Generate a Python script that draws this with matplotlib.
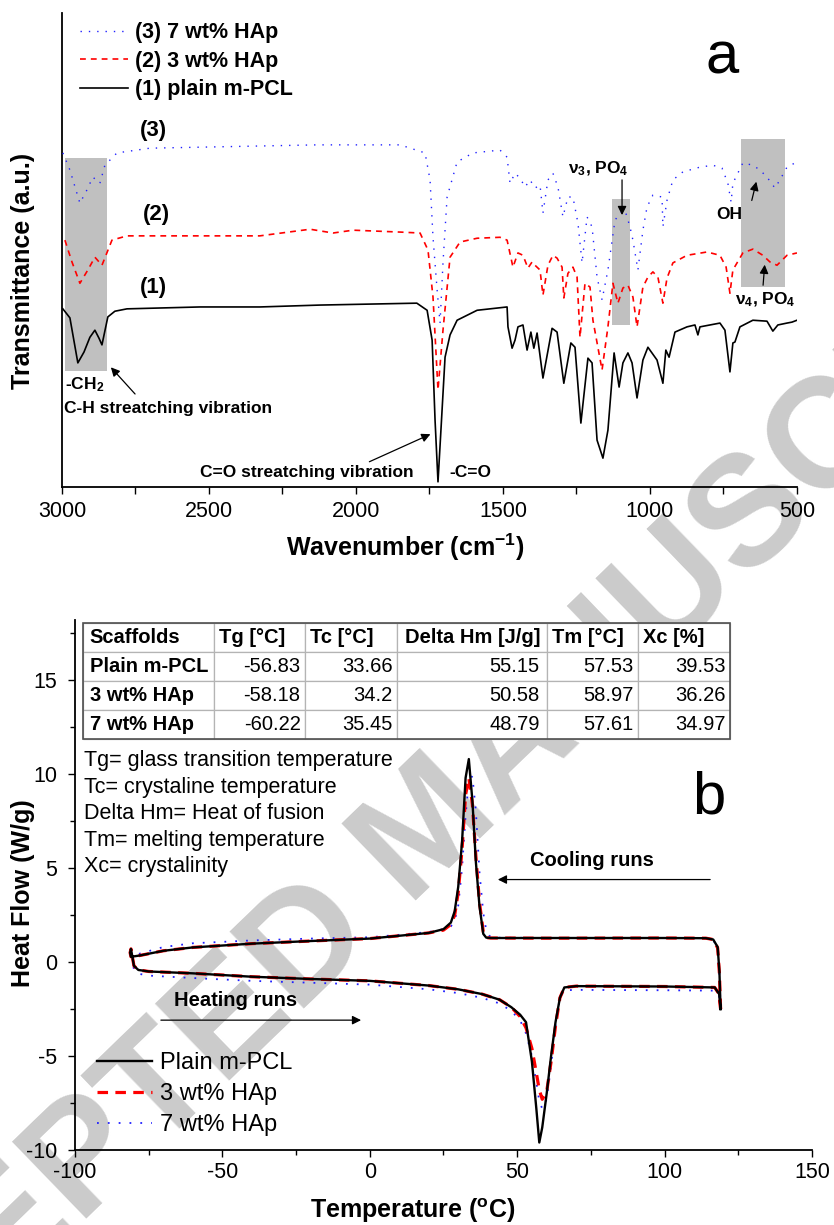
import matplotlib
matplotlib.use('Agg')
import matplotlib.pyplot as plt
from matplotlib.patches import Rectangle
from matplotlib.ticker import MultipleLocator

plt.rcParams['font.family'] = ['Liberation Sans', 'DejaVu Sans']
plt.rcParams['mathtext.fontset'] = 'custom'
plt.rcParams['mathtext.rm'] = 'Liberation Sans'
plt.rcParams['mathtext.bf'] = 'Liberation Sans:bold'
plt.rcParams['mathtext.it'] = 'Liberation Sans:italic'
plt.rcParams['axes.unicode_minus'] = False

#-------------------- FTIR (a) --------------------#
# wavenumber (cm-1) / transmittance (a.u.)
wn_pcl = [2997, 2973, 2946, 2925, 2905, 2888, 2874, 2864, 2844, 2820, 2779, 2531, 2327, 2122, 1793,
          1758, 1741, 1731, 1721, 1711, 1697, 1680, 1656, 1588, 1486, 1483, 1469, 1459, 1449, 1432,
          1418, 1405, 1395, 1384, 1364, 1333, 1316, 1293, 1269, 1255, 1235, 1211, 1197, 1180, 1160,
          1143, 1122, 1105, 1092, 1075, 1061, 1044, 1024, 1007, 976, 956, 946, 935, 915, 874, 847,
          837, 830, 762, 745, 728, 718, 711, 694, 650, 602, 582, 565, 534, 517, 500]
t_pcl = [37.6, 35.7, 26.2, 28.5, 31.6, 33.1, 31.4, 30.0, 35.9, 37.1, 37.6, 38.0, 38.0, 38.4, 38.8,
         37.3, 31.0, 14.1, 1.1, 12.0, 27.4, 32.1, 35.2, 37.3, 38.0, 33.8, 29.3, 31.0, 33.8, 34.2,
         28.9, 32.7, 29.3, 32.5, 23.0, 33.5, 32.7, 21.9, 30.4, 29.5, 13.5, 27.2, 26.2, 9.9, 6.1,
         12.0, 28.3, 21.1, 26.2, 28.3, 26.2, 18.8, 26.8, 29.5, 26.8, 21.9, 28.9, 27.4, 32.7, 33.8, 34.2,
         32.1, 33.8, 34.6, 33.1, 24.3, 30.4, 30.6, 33.8, 35.2, 35.0, 32.9, 34.2, 34.6, 34.8, 35.2]

wn_3 = [2990, 2966, 2939, 2912, 2888, 2864, 2830, 2779, 2327, 2156, 2078, 2010, 1850, 1782, 1755,
        1738, 1721, 1704, 1680, 1646, 1588, 1510, 1486, 1466, 1449, 1432, 1415, 1401, 1391, 1374,
        1364, 1347, 1330, 1316, 1299, 1293, 1279, 1262, 1248, 1238, 1221, 1204, 1194, 1163, 1143,
        1126, 1109, 1092, 1075, 1058, 1044, 1024, 1007, 990, 973, 956, 942, 922, 874, 806, 762,
        741, 728, 718, 684, 650, 616, 592, 568, 534, 500]
t_3 = [52.1, 47.5, 43.0, 45.8, 48.5, 46.8, 52.1, 53.0, 53.0, 54.4, 53.6, 54.2, 53.8, 53.6, 50.0,
       40.1, 20.5, 33.1, 48.5, 51.7, 52.5, 52.7, 52.1, 46.4, 49.4, 48.9, 46.2, 47.5, 46.8, 45.8,
       40.5, 46.8, 48.9, 48.3, 46.4, 39.9, 45.1, 46.4, 44.3, 31.6, 43.0, 42.2, 35.2, 24.7, 33.8,
       43.0, 38.8, 42.0, 42.6, 40.1, 33.8, 42.2, 44.3, 45.4, 44.3, 38.8, 44.1, 47.3, 48.9, 49.6, 48.9,
       46.4, 40.9, 45.8, 49.4, 50.2, 48.9, 47.5, 46.8, 48.9, 49.4]

wn_7 = [2997, 2973, 2939, 2915, 2895, 2871, 2854, 2813, 2701, 2133, 1850, 1765, 1748, 1738, 1724,
        1714, 1704, 1690, 1656, 1602, 1510, 1486, 1476, 1459, 1442, 1425, 1408, 1391, 1374, 1364,
        1347, 1330, 1313, 1296, 1279, 1262, 1245, 1231, 1214, 1197, 1180, 1163, 1143, 1119, 1102,
        1085, 1068, 1058, 1041, 1024, 1010, 990, 959, 956, 942, 922, 888, 830, 786, 755, 735,
        724, 718, 684, 650, 626, 602, 575, 558, 534, 500]
t_7 = [70.5, 66.9, 59.9, 62.7, 65.4, 64.1, 67.9, 70.5, 71.5, 72.2, 72.2, 70.5, 64.8, 52.7, 41.6,
       34.6, 47.3, 61.2, 68.6, 70.5, 71.1, 69.6, 64.1, 66.2, 65.2, 63.3, 64.8, 63.1, 63.7, 57.8,
       64.8, 66.2, 63.3, 57.0, 61.2, 61.2, 55.7, 47.3, 57.0, 54.9, 44.3, 39.5, 45.8, 56.3, 57.8,
       58.4, 54.9, 52.1, 45.8, 54.2, 59.1, 61.6, 61.2, 54.9, 60.5, 64.8, 66.5, 67.5, 67.9, 67.3, 64.1,
       60.1, 64.1, 68.4, 67.9, 66.9, 65.4, 63.1, 64.8, 67.5, 68.6]

ftir_labels = ['(1) plain m-PCL', '(2) 3 wt% HAp', '(3) 7 wt% HAp']

#-------------------- DSC (b) --------------------#
temp_cool = [119.0, 118.6, 118.0, 116.5, 114, 100, 60, 41, 39.5, 38.5, 37.2, 36.0, 34.8, 33.6, 32.5,
             31.3, 30.0, 28.8, 27.5, 25, 20, 10, 0, -20, -40, -60, -70, -78, -81, -81.3]
hf_cool_pcl = [-2.5, -0.5, 0.8, 1.2, 1.27, 1.28, 1.28, 1.28, 1.3, 1.5, 3.0, 5.3, 8.6, 10.8, 9.8,
               6.4, 4.0, 2.7, 2.1, 1.75, 1.55, 1.4, 1.25, 1.12, 0.98, 0.78, 0.6, 0.35, 0.28, 0.5]
hf_cool_3 = [-2.5, -0.6, 0.75, 1.2, 1.27, 1.28, 1.27, 1.28, 1.3, 1.6, 3.2, 5.6, 8.4, 9.8, 8.9,
             6.0, 3.7, 2.5, 2.0, 1.7, 1.55, 1.4, 1.25, 1.12, 0.98, 0.78, 0.6, 0.35, 0.28, 0.5]
hf_cool_7 = [-2.4, -0.7, 0.7, 1.2, 1.27, 1.28, 1.28, 1.3, 1.7, 2.6, 4.8, 8.0, 9.9, 9.6, 7.8,
             5.0, 3.0, 2.2, 1.9, 1.75, 1.6, 1.45, 1.32, 1.25, 1.15, 1.0, 0.8, 0.45, 0.3, 0.5]

temp_heat = [-81.0, -80.0, -78.5, -75, -60, -40, -20, 0, 20, 30, 38, 44, 48, 51, 53,
             55, 56.5, 57.5, 58.5, 60, 61.5, 63, 64.5, 66, 70, 100, 117, 118.5, 119.0]
hf_heat_pcl = [0.7, -0.2, -0.42, -0.5, -0.6, -0.78, -0.9, -1.0, -1.25, -1.45, -1.7, -2.0, -2.4, -2.8, -3.2,
               -5.3, -7.8, -9.6, -8.8, -7.0, -5.0, -3.2, -1.9, -1.35, -1.28, -1.3, -1.35, -1.7, -2.5]
hf_heat_3 = [0.7, -0.2, -0.42, -0.5, -0.6, -0.78, -0.9, -1.0, -1.25, -1.45, -1.7, -2.0, -2.4, -2.9, -3.5,
             -4.6, -5.9, -6.8, -7.3, -6.9, -5.3, -3.4, -1.9, -1.35, -1.28, -1.3, -1.35, -1.7, -2.5]
hf_heat_7 = [0.6, -0.4, -0.62, -0.72, -0.85, -1.0, -1.1, -1.2, -1.45, -1.65, -1.9, -2.2, -2.6, -3.1, -3.8,
             -5.0, -6.4, -7.4, -7.8, -7.3, -5.5, -3.4, -1.9, -1.5, -1.48, -1.5, -1.52, -1.8, -2.5]

dsc_labels = ['Plain m-PCL', '3 wt% HAp', '7 wt% HAp']

table_cols = ['Scaffolds', 'Tg [°C]', 'Tc [°C]', 'Delta Hm [J/g]', 'Tm [°C]', 'Xc [%]']
table_rows = ['Plain m-PCL', '3 wt% HAp', '7 wt% HAp']
tg = ['-56.83', '-58.18', '-60.22']
tc = ['33.66', '34.2', '35.45']
dhm = ['55.15', '50.58', '48.79']
tm = ['57.53', '58.97', '57.61']
xc = ['39.53', '36.26', '34.97']

notes = ['Tg= glass transition temperature', 'Tc= crystaline temperature',
         'Delta Hm= Heat of fusion', 'Tm= melting temperature', 'Xc= crystalinity']

#-----------------------------------------------------#

fig = plt.figure(figsize=(8.34, 12.25), dpi=100)

# watermark behind everything
fig.text(0.516, 0.322, 'ACCEPTED MANUSCRIPT', rotation=44, fontsize=112, fontweight='bold',
         color='#cbcbcb', ha='center', va='center', zorder=-5)

#------------------ panel a ------------------#
ax1 = fig.add_axes([0.0743, 0.6024, 0.8813, 0.3869])
ax1.patch.set_alpha(0)

for x0, x1, y0, y1 in [(2847, 2990, 24.5, 69.4), (1068, 1129, 34.2, 60.8), (541, 690, 42.2, 73.4)]:
    ax1.add_patch(Rectangle((x1, y0), x0 - x1, y1 - y0, facecolor='#c0c0c0', edgecolor='none', zorder=1))

l1, = ax1.plot(wn_pcl, t_pcl, color='black', lw=1.2, zorder=3, label=ftir_labels[0])
l2, = ax1.plot(wn_3, t_3, color='#ff0000', lw=1.2, ls=(0, (3.5, 3)), zorder=3, label=ftir_labels[1])
l3, = ax1.plot(wn_7, t_7, color='#2020ff', lw=1.0, ls=(0, (1, 5)), zorder=3, label=ftir_labels[2])

ax1.set_xlim(3000, 500)
ax1.set_ylim(0, 100)
ax1.set_yticks([])
ax1.xaxis.set_major_locator(MultipleLocator(500))
ax1.xaxis.set_minor_locator(MultipleLocator(250))
ax1.tick_params(axis='x', which='both', direction='out', length=5, width=1, labelsize=15.5, pad=5)
for s in ['top', 'right']:
    ax1.spines[s].set_visible(False)
for s in ['left', 'bottom']:
    ax1.spines[s].set_linewidth(1.3)

ax1.set_xlabel(r'Wavenumber (cm$^{\mathbf{-1}}$)', fontsize=18, fontweight='bold')
ax1.xaxis.set_label_coords(0.467, -0.095)
ax1.set_ylabel('Transmittance (a.u.)', fontsize=18, fontweight='bold')
ax1.yaxis.set_label_coords(-0.037, 0.456)

ax1.legend([l3, l2, l1], [ftir_labels[2], ftir_labels[1], ftir_labels[0]], loc='upper left',
           bbox_to_anchor=(0.024, 0.981), frameon=False, borderaxespad=0, borderpad=0,
           handlelength=2.23, handletextpad=0.33, labelspacing=0.35,
           prop={'weight': 'bold', 'size': 15.5})

bold = dict(fontweight='bold', fontsize=12.5, ha='center', va='center')
ax1.text(2690, 75.3, '(3)', fontweight='bold', fontsize=16, ha='center', va='center')
ax1.text(2677, 57.6, '(2)', fontweight='bold', fontsize=16, ha='center', va='center')
ax1.text(2690, 42.2, '(1)', fontweight='bold', fontsize=16, ha='center', va='center')
ax1.text(755, 87.3, 'a', fontsize=43, ha='center', va='baseline')

ax1.text(2922, 21.7, r'-CH$_{\mathbf{2}}$', **bold)
ax1.text(2993, 16.6, 'C-H streatching vibration', fontweight='bold', fontsize=12.5, ha='left', va='center')
ax1.text(2167, 3.1, 'C=O streatching vibration', **bold)
ax1.text(1612, 3.1, '-C=O', **bold)
ax1.text(1177, 67.1, r'ν$_{\mathbf{3}}$, PO$_{\mathbf{4}}$', **bold)
ax1.text(731, 57.6, 'OH', **bold)
ax1.text(609, 39.5, r'ν$_{\mathbf{4}}$, PO$_{\mathbf{4}}$', **bold)

arrow = dict(arrowstyle='-|>', color='black', lw=0.9, mutation_scale=13)
for tail, head in [((2745, 19.2), (2840, 25.7)), ((1963, 5.1), (1738, 11.4)),
                   ((1095, 65.4), (1095, 56.8)), ((656, 59.9), (636, 65.0)),
                   ((616, 42.0), (609, 47.5))]:
    ax1.annotate('', xy=head, xytext=tail, arrowprops=arrow, zorder=4)

#------------------ panel b ------------------#
ax2 = fig.add_axes([0.0899, 0.0612, 0.8837, 0.4327])
ax2.patch.set_alpha(0)

ax2.plot(temp_cool + temp_heat, hf_cool_pcl + hf_heat_pcl, color='black', lw=1.7, zorder=4,
         label=dsc_labels[0])
ax2.plot(temp_cool + temp_heat, hf_cool_3 + hf_heat_3, color='#ff0000', lw=2.3, ls=(0, (3.3, 2.3)),
         zorder=3, label=dsc_labels[1])
ax2.plot(temp_cool + temp_heat, hf_cool_7 + hf_heat_7, color='#2020ff', lw=1.3, ls=(0, (1, 5)),
         zorder=2, label=dsc_labels[2])

ax2.set_xlim(-100, 150)
ax2.set_ylim(-10, 18.2)
ax2.xaxis.set_major_locator(MultipleLocator(50))
ax2.xaxis.set_minor_locator(MultipleLocator(25))
ax2.yaxis.set_major_locator(MultipleLocator(5))
ax2.yaxis.set_minor_locator(MultipleLocator(2.5))
ax2.tick_params(axis='both', which='major', direction='out', length=5, width=1, labelsize=15.5)
ax2.tick_params(axis='both', which='minor', direction='out', length=3.5, width=1)
ax2.tick_params(axis='x', which='both', pad=3.5)
ax2.tick_params(axis='y', which='both', pad=8)
for s in ['top', 'right']:
    ax2.spines[s].set_visible(False)
for s in ['left', 'bottom']:
    ax2.spines[s].set_linewidth(1.3)

ax2.set_xlabel(r'Temperature ($^{\mathbf{o}}$C)', fontsize=18, fontweight='bold')
ax2.xaxis.set_label_coords(0.459, -0.087)
ax2.set_ylabel('Heat Flow (W/g)', fontsize=18, fontweight='bold')
ax2.yaxis.set_label_coords(-0.054, 0.485)

ax2.legend(loc='lower left', bbox_to_anchor=(0.03, 0.026), frameon=False, borderaxespad=0,
           borderpad=0, handlelength=2.33, handletextpad=0.34, labelspacing=0.38, fontsize=17)

# table
cell_text = [[table_rows[i], tg[i], tc[i], dhm[i], tm[i], xc[i]] for i in range(3)]
col_w = [131, 91, 92, 150, 91, 92]
col_w = [w / sum(col_w) for w in col_w]
tab = ax2.table(cellText=cell_text, colLabels=table_cols, colWidths=col_w,
                bbox=[0.011, 0.7755, 0.878, 0.219], zorder=5)
tab.auto_set_font_size(False)
tab.set_fontsize(14.5)
for (r, c), cell in tab.get_celld().items():
    cell.set_edgecolor('#b4b4b4')
    cell.set_linewidth(0.9)
    cell.set_facecolor('white')
    cell.PAD = 0.05
    txt = cell.get_text()
    if r == 0 or c == 0:
        txt.set_fontweight('bold')
        txt.set_horizontalalignment('left')
    else:
        txt.set_horizontalalignment('right')
ax2.add_patch(Rectangle((0.011, 0.7755), 0.878, 0.219, transform=ax2.transAxes, fill=False,
                        edgecolor='#505050', lw=1.2, zorder=6))

for i, note in enumerate(notes):
    ax2.text(-96.9, [10.75, 9.31, 7.93, 6.49, 5.06][i], note, fontsize=15.5, ha='left', va='center')

ax2.text(115.1, 7.93, 'b', fontsize=43, ha='center', va='baseline')

ax2.text(75.4, 5.38, 'Cooling runs', fontsize=14.5, fontweight='bold', ha='center', va='center')
ax2.text(-45.4, -2.02, 'Heating runs', fontsize=14.5, fontweight='bold', ha='center', va='center')
ax2.annotate('', xy=(42.5, 4.39), xytext=(116.4, 4.39), arrowprops=arrow)
ax2.annotate('', xy=(-2.0, -3.09), xytext=(-71.8, -3.09), arrowprops=arrow)

plt.savefig('out.png', dpi=100)
